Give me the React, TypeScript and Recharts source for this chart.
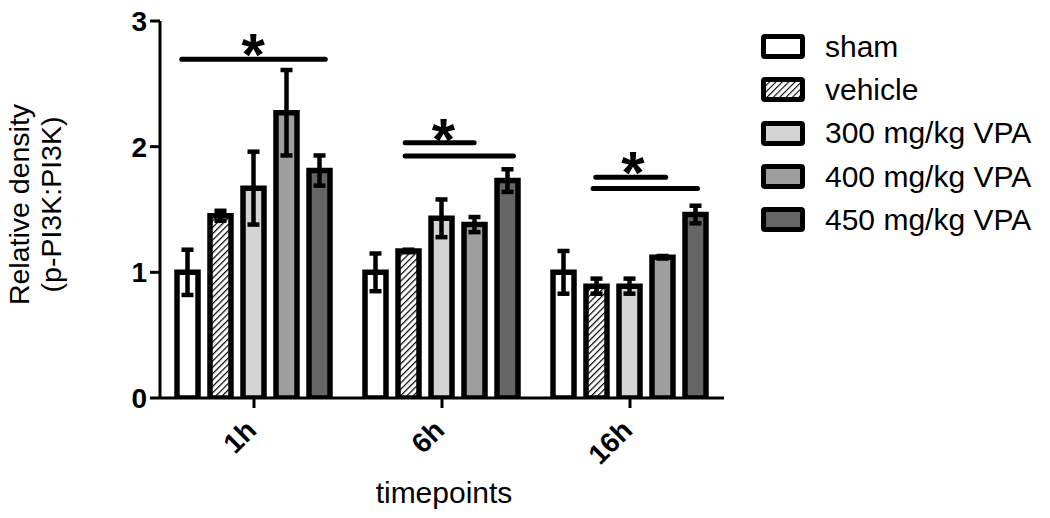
import React from 'react';
import { BarChart, Bar, XAxis, YAxis, ErrorBar, ReferenceLine, ReferenceDot, Label } from 'recharts';

const timepoints = ['1h', '6h', '16h'];
const seriesNames = ['sham', 'vehicle', '300 mg/kg VPA', '400 mg/kg VPA', '450 mg/kg VPA'];
const sham = [1.0, 1.0, 1.0];
const shamErr = [0.18, 0.15, 0.17];
const vehicle = [1.45, 1.17, 0.89];
const vehicleErr = [0.04, 0.01, 0.06];
const vpa300 = [1.67, 1.43, 0.89];
const vpa300Err = [0.29, 0.15, 0.06];
const vpa400 = [2.27, 1.38, 1.12];
const vpa400Err = [0.34, 0.06, 0.01];
const vpa450 = [1.81, 1.73, 1.46];
const vpa450Err = [0.12, 0.09, 0.07];
const yTicks = [0, 1, 2, 3];

// significance brackets, in units of category index (0..3) and y value
const sigX1 = [0.116, 1.304, 1.304, 2.318, 2.304];
const sigX2 = [0.879, 1.671, 1.88, 2.69, 2.859];
const sigY = [2.695, 2.032, 1.926, 1.756, 1.668];
const starX = [0.496, 1.508, 2.515];
const starY = [2.835, 2.159, 1.891];

const fills = ['#ffffff', 'url(#hatch)', '#d4d4d4', '#9e9e9e', '#656565'];
const values = [sham, vehicle, vpa300, vpa400, vpa450];
const errors = [shamErr, vehicleErr, vpa300Err, vpa400Err, vpa450Err];

const data = timepoints.map((t, i) => {
  const row: any = { t, pos: i + 0.5 };
  values.forEach((v, k) => {
    row['v' + k] = v[i];
    row['e' + k] = errors[k][i];
  });
  return row;
});

const FONT = '"Liberation Sans", Arial, sans-serif';

const XTick = (props: any) => {
  const { x, y, payload } = props;
  return (
    <text
      x={x + 4}
      y={y + 22}
      transform={`rotate(-45, ${x + 4}, ${y + 22})`}
      textAnchor="end"
      fontFamily={FONT}
      fontWeight="bold"
      fontSize={28}
      fill="#000"
    >
      {payload.value}
    </text>
  );
};

const YLabel = (props: any) => {
  const vb = props.viewBox;
  const cy = vb.y + vb.height / 2 - 5;
  return (
    <g transform={`translate(29, ${cy}) rotate(-90)`}>
      <text x={0} y={0} textAnchor="middle" fontFamily={FONT} fontSize={28.5} fill="#000">
        Relative density
      </text>
      <text x={0} y={32} textAnchor="middle" fontFamily={FONT} fontSize={28.5} fill="#000">
        (p-PI3K:PI3K)
      </text>
    </g>
  );
};

const XLabel = (props: any) => {
  const vb = props.viewBox;
  return (
    <text
      x={vb.x + vb.width / 2 + 2}
      y={vb.y + 105}
      textAnchor="middle"
      fontFamily={FONT}
      fontSize={30}
      fill="#000"
    >
      timepoints
    </text>
  );
};

const Star = (props: any) => (
  <text
    x={props.cx}
    y={props.cy + 33}
    textAnchor="middle"
    fontFamily={FONT}
    fontWeight="bold"
    fontSize={60}
    fill="#000"
  >
    *
  </text>
);

const Swatch = ({ i }: { i: number }) => (
  <svg width={44} height={25} style={{ display: 'block' }}>
    <defs>
      <pattern id={'lhatch'} width={4.5} height={4.5} patternUnits="userSpaceOnUse" patternTransform="rotate(45)">
        <rect width={4.5} height={4.5} fill="#fff" />
        <line x1={0} y1={0} x2={0} y2={4.5} stroke="#000" strokeWidth={2.2} />
      </pattern>
    </defs>
    <rect
      x={2.5}
      y={2.5}
      width={39}
      height={20}
      fill={i === 1 ? 'url(#lhatch)' : fills[i]}
      stroke="#000"
      strokeWidth={5}
      rx={1.5}
    />
  </svg>
);

export default function App() {
  return (
    <div style={{ position: 'absolute', left: 0, top: 0, width: 1050, height: 518, background: '#fff' }}>
      <BarChart
        width={1050}
        height={518}
        data={data}
        margin={{ top: 21, right: 326, bottom: 0, left: 0 }}
        barCategoryGap={17}
        barGap={12}
      >
        <defs>
          <pattern id="hatch" width={4.5} height={4.5} patternUnits="userSpaceOnUse" patternTransform="rotate(45)">
            <rect width={4.5} height={4.5} fill="#fff" />
            <line x1={0} y1={0} x2={0} y2={4.5} stroke="#000" strokeWidth={2.4} />
          </pattern>
        </defs>
        <XAxis
          xAxisId="cat"
          dataKey="t"
          height={120}
          axisLine={{ stroke: '#000', strokeWidth: 3 }}
          tickLine={{ stroke: '#000', strokeWidth: 3 }}
          tickSize={10}
          tick={<XTick />}
          interval={0}
        >
          <Label content={<XLabel />} />
        </XAxis>
        <XAxis xAxisId="num" dataKey="pos" type="number" domain={[0, 3]} hide allowDataOverflow />
        <YAxis
          domain={[0, 3]}
          ticks={yTicks}
          width={160}
          axisLine={{ stroke: '#000', strokeWidth: 3 }}
          tickLine={{ stroke: '#000', strokeWidth: 3 }}
          tickSize={10}
          tickMargin={3}
          tick={{ fontFamily: FONT, fontWeight: 'bold', fontSize: 28, fill: '#000' }}
          allowDataOverflow
        >
          <Label content={<YLabel />} />
        </YAxis>
        {seriesNames.map((name, k) => (
          <Bar
            key={k}
            xAxisId="cat"
            dataKey={'v' + k}
            name={name}
            fill={fills[k]}
            stroke="#000"
            strokeWidth={5.5}
            isAnimationActive={false}
          >
            <ErrorBar dataKey={'e' + k} width={6} strokeWidth={4.5} stroke="#000" direction="y" isAnimationActive={false} />
          </Bar>
        ))}
        {sigY.map((y, i) => (
          <ReferenceLine
            key={'s' + i}
            xAxisId="num"
            segment={[{ x: sigX1[i], y }, { x: sigX2[i], y }]}
            stroke="#000"
            strokeWidth={5}
            strokeLinecap="round"
            ifOverflow="visible"
          />
        ))}
        {starX.map((x, i) => (
          <ReferenceDot key={'st' + i} xAxisId="num" x={x} y={starY[i]} r={0} shape={<Star />} ifOverflow="visible" />
        ))}
      </BarChart>
      <div style={{ position: 'absolute', left: 761, top: 25, fontFamily: FONT, fontSize: 30, color: '#000' }}>
        {seriesNames.map((name, i) => (
          <div key={i} style={{ height: 43.3, display: 'flex', alignItems: 'center' }}>
            <Swatch i={i} />
            <span style={{ marginLeft: 20, whiteSpace: 'nowrap', lineHeight: '30px' }}>{name}</span>
          </div>
        ))}
      </div>
    </div>
  );
}
